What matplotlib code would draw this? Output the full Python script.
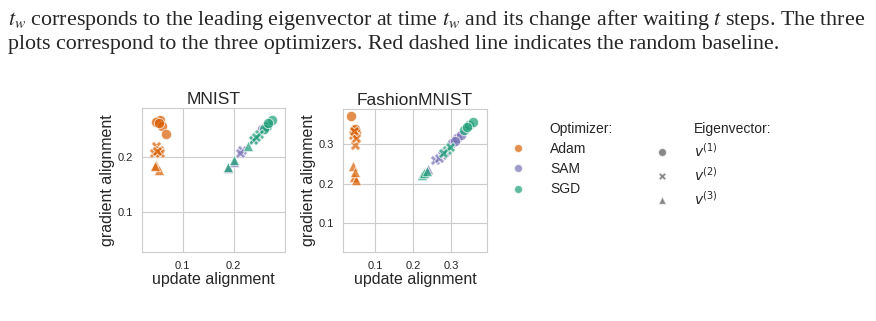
import matplotlib
matplotlib.use("Agg")
import matplotlib.pyplot as plt
from matplotlib.lines import Line2D
import seaborn as sns

# long-form data: (optimizer, eigenvector, update alignment, gradient alignment)
mnist_opt = ["Adam"] * 14 + ["SAM"] * 7 + ["SGD"] * 10
mnist_eig = ([1] * 6 + [2] * 5 + [3] * 3
             + [1] * 2 + [2] * 3 + [3] * 2
             + [1] * 4 + [2] * 3 + [3] * 3)
mnist_update = [0.052, 0.056, 0.048, 0.059, 0.068, 0.054,
                0.047, 0.053, 0.044, 0.055, 0.050,
                0.048, 0.054, 0.046,
                0.255, 0.262,
                0.217, 0.212, 0.240,
                0.188, 0.200,
                0.266, 0.275, 0.259, 0.268,
                0.237, 0.250, 0.244,
                0.188, 0.201, 0.227]
mnist_grad = [0.265, 0.268, 0.263, 0.257, 0.242, 0.262,
              0.219, 0.213, 0.208, 0.207, 0.211,
              0.186, 0.177, 0.183,
              0.250, 0.255,
              0.213, 0.208, 0.233,
              0.180, 0.190,
              0.256, 0.267, 0.251, 0.262,
              0.230, 0.241, 0.236,
              0.182, 0.194, 0.219]

fmnist_opt = ["Adam"] * 12 + ["SAM"] * 10 + ["SGD"] * 10
fmnist_eig = ([1] * 4 + [2] * 4 + [3] * 4
              + [1] * 4 + [2] * 4 + [3] * 2
              + [1] * 4 + [2] * 3 + [3] * 3)
fmnist_update = [0.038, 0.044, 0.051, 0.047,
                 0.041, 0.047, 0.050, 0.045,
                 0.042, 0.044, 0.050, 0.047,
                 0.304, 0.317, 0.326, 0.310,
                 0.259, 0.277, 0.268, 0.285,
                 0.232, 0.240,
                 0.335, 0.348, 0.357, 0.342,
                 0.290, 0.298, 0.280,
                 0.224, 0.230, 0.236]
fmnist_grad = [0.373, 0.337, 0.332, 0.340,
               0.324, 0.298, 0.315, 0.333,
               0.244, 0.217, 0.210, 0.230,
               0.303, 0.315, 0.324, 0.308,
               0.260, 0.273, 0.266, 0.280,
               0.229, 0.236,
               0.337, 0.350, 0.356, 0.344,
               0.285, 0.294, 0.279,
               0.221, 0.227, 0.232]

optimizers = ["Adam", "SAM", "SGD"]
colors = {"Adam": "#d95f02", "SAM": "#7570b3", "SGD": "#1b9e77"}
markers = {1: "o", 2: "X", 3: "^"}

sns.set_style("whitegrid")
plt.rcParams["font.family"] = ["Liberation Sans", "DejaVu Sans"]
plt.rcParams["mathtext.fontset"] = "dejavusans"

fig = plt.figure(figsize=(8.76, 3.21), dpi=100)
ax1 = fig.add_axes([0.1621, 0.215, 0.163, 0.4486])
ax2 = fig.add_axes([0.3916, 0.215, 0.1644, 0.4455])


def draw(ax, opt, eig, xs, ys):
    for o in optimizers:
        for e in (1, 2, 3):
            px = [x for x, a, b in zip(xs, opt, eig) if a == o and b == e]
            py = [y for y, a, b in zip(ys, opt, eig) if a == o and b == e]
            ax.scatter(px, py, s=55, marker=markers[e], color=colors[o],
                       alpha=0.7, edgecolor="white", linewidth=0.7, zorder=3)
    ax.set_xlabel("update alignment", fontsize=11.5, labelpad=1)
    ax.set_ylabel("gradient alignment", fontsize=11.5, labelpad=2)
    ax.tick_params(labelsize=8, pad=3)
    for s in ax.spines.values():
        s.set_color("#cccccc")


draw(ax1, mnist_opt, mnist_eig, mnist_update, mnist_grad)
ax1.set_xlim(0.02, 0.30)
ax1.set_ylim(0.027, 0.289)
ax1.set_xticks([0.1, 0.2])
ax1.set_yticks([0.1, 0.2])
ax1.set_title("MNIST", fontsize=12.5, pad=3)

draw(ax2, fmnist_opt, fmnist_eig, fmnist_update, fmnist_grad)
ax2.set_xlim(0.016, 0.395)
ax2.set_ylim(0.026, 0.39)
ax2.set_xticks([0.1, 0.2, 0.3])
ax2.set_yticks([0.1, 0.2, 0.3])
ax2.set_title("FashionMNIST", fontsize=12.5, pad=3)

blank = Line2D([], [], linestyle="none", marker="")
handles = [blank] + [Line2D([], [], linestyle="none", marker="o", markersize=6,
                            color=colors[o], alpha=0.7, markeredgecolor="white")
                     for o in optimizers]
handles += [blank] + [Line2D([], [], linestyle="none", marker=markers[e], markersize=6,
                             color="#555555", alpha=0.7, markeredgecolor="white")
                      for e in (1, 2, 3)]
labels = ["Optimizer:"] + optimizers + ["Eigenvector:", r"$v^{(1)}$", r"$v^{(2)}$", r"$v^{(3)}$"]
fig.legend(handles, labels, ncol=2, frameon=False, fontsize=10,
           loc="upper left", bbox_to_anchor=(0.569, 0.66),
           handlelength=1.0, handletextpad=1.8, labelspacing=0.45, columnspacing=3.0)

serif = ["Liberation Serif", "DejaVu Serif"]
plt.rcParams["mathtext.fontset"] = "stix"
fig.text(0.009, 0.922,
         r"$t_w$ corresponds to the leading eigenvector at time $t_w$ and its change after waiting $t$ steps. The three",
         family=serif, fontsize=15.8, va="baseline")
fig.text(0.009, 0.847,
         "plots correspond to the three optimizers. Red dashed line indicates the random baseline.",
         family=serif, fontsize=15.8, va="baseline")

fig.savefig("out.png", dpi=100)
